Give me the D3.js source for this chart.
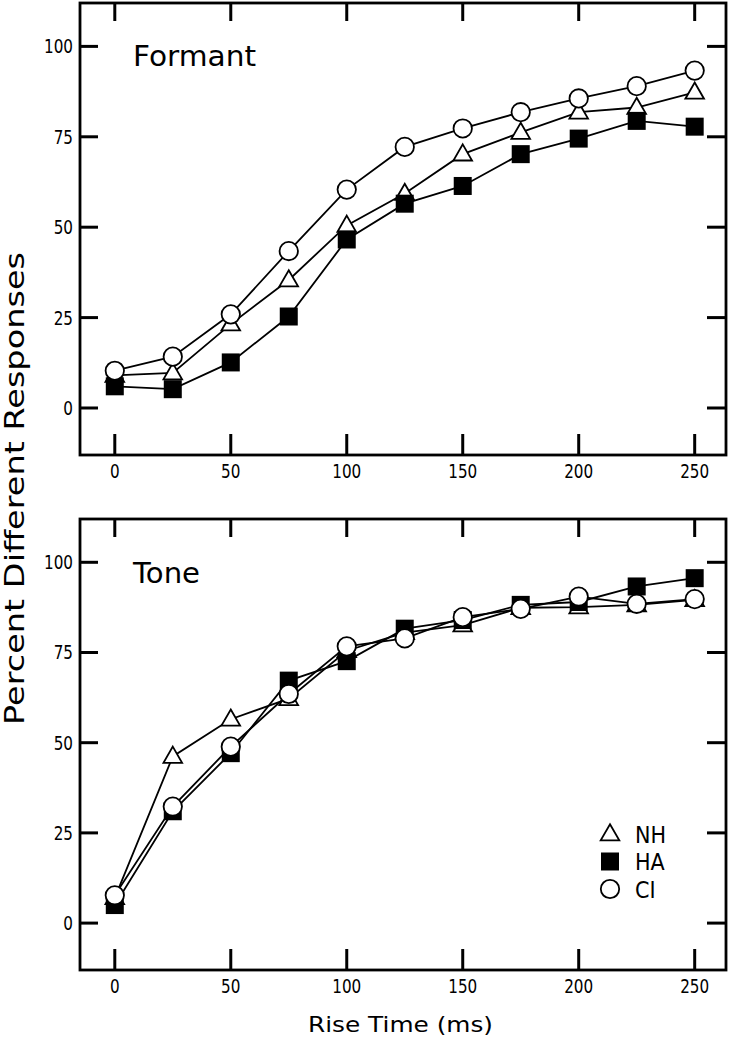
<!DOCTYPE html>
<html><head><meta charset="utf-8">
<script src="https://cdn.jsdelivr.net/npm/d3@7"></script>
<style>
html,body{margin:0;padding:0;background:#fff;}
text{font-family:"DejaVu Sans",sans-serif;fill:#000;}
</style></head>
<body>
<svg id="chart" width="730" height="1039"></svg>
<script>
const riseTime = [0,25,50,75,100,125,150,175,200,225,250];
const xTicks = [0,50,100,150,200,250];
const yTicks = [0,25,50,75,100];
const seriesNames = ["NH","HA","CI"];
// Formant panel
const formantNH = [9,9.7,23.2,35.4,50.5,59.3,70.2,76.2,81.8,83.1,87.3];
const formantHA = [6.0,5.2,12.6,25.3,46.6,56.5,61.4,70.2,74.5,79.4,77.8];
const formantCI = [10.3,14.2,25.9,43.4,60.4,72.2,77.3,81.8,85.6,89.0,93.3];
// Tone panel
const toneNH = [7,46.2,56.5,62.2,75.5,80.5,82.6,87.4,87.6,88.2,89.6];
const toneHA = [5.0,31.0,47.1,67.2,72.6,81.6,84.0,88.2,89.0,93.3,95.6];
const toneCI = [7.7,32.3,48.9,63.5,76.7,78.9,84.8,87.1,90.5,88.5,89.8];

const svg = d3.select("#chart");

function tickText(g, tx, ty, anchor, str){
  g.append("text").attr("transform",`translate(${tx},${ty}) scale(0.78,1)`)
    .attr("text-anchor",anchor).attr("font-size",19.5).text(str);
}

function panel(opts){
  const x = d3.scaleLinear().domain([-15,263.5]).range([80,726]);
  const y = d3.scaleLinear().domain([-13,112]).range([opts.bottom, opts.top]);
  const g = svg.append("g");
  g.append("rect").attr("x",x(-15)).attr("y",y(112)).attr("width",x(263.5)-x(-15)).attr("height",y(-13)-y(112))
    .attr("fill","none").attr("stroke","#000").attr("stroke-width",2.8);
  yTicks.forEach(t=>{
    g.append("line").attr("x1",x(-15)).attr("x2",x(-15)+18).attr("y1",y(t)).attr("y2",y(t)).attr("stroke","#000").attr("stroke-width",3);
    g.append("line").attr("x1",x(263.5)).attr("x2",x(263.5)-19).attr("y1",y(t)).attr("y2",y(t)).attr("stroke","#000").attr("stroke-width",3);
    tickText(g, x(-15)-7, y(t)+7, "end", t);
  });
  xTicks.forEach(t=>{
    g.append("line").attr("x1",x(t)).attr("x2",x(t)).attr("y1",y(-13)).attr("y2",y(-13)-21).attr("stroke","#000").attr("stroke-width",3);
    g.append("line").attr("x1",x(t)).attr("x2",x(t)).attr("y1",y(112)).attr("y2",y(112)+18).attr("stroke","#000").attr("stroke-width",3);
    tickText(g, x(t), y(-13)+23, "middle", t);
  });
  g.append("text").attr("x",133).attr("y",y(100)+opts.labelDy).attr("font-size",29)
    .attr("textLength",opts.labelLen).attr("lengthAdjust","spacingAndGlyphs").text(opts.label);
  const data = opts.data;
  const line = d3.line().x((d,i)=>x(riseTime[i])).y(d=>y(d));
  data.forEach(s=>{
    g.append("path").attr("d",line(s.values)).attr("fill","none").attr("stroke","#000").attr("stroke-width",1.8);
  });
  data.forEach(s=>{
    s.values.forEach((v,i)=>drawMarker(g, s.name, x(riseTime[i]), y(v)));
  });
}

function drawMarker(g, name, cx, cy){
  if(name==="NH"){
    const sym = d3.symbol().type(d3.symbolTriangle).size(150);
    g.append("path").attr("d",sym()).attr("transform",`translate(${cx},${cy+1})`).attr("fill","#fff").attr("stroke","#000").attr("stroke-width",1.8);
  } else if(name==="HA"){
    g.append("rect").attr("x",cx-9).attr("y",cy-9).attr("width",18).attr("height",18).attr("fill","#000");
  } else {
    g.append("circle").attr("cx",cx).attr("cy",cy).attr("r",9.2).attr("fill","#fff").attr("stroke","#000").attr("stroke-width",1.8);
  }
}

panel({top:3,bottom:455,label:"Formant",labelLen:123,labelDy:20,data:[
  {name:"NH",values:formantNH},{name:"HA",values:formantHA},{name:"CI",values:formantCI}]});
panel({top:519,bottom:970,label:"Tone",labelLen:67,labelDy:21,data:[
  {name:"NH",values:toneNH},{name:"HA",values:toneHA},{name:"CI",values:toneCI}]});

// legend
const lg = svg.append("g");
seriesNames.forEach((n,i)=>{
  const cy = 834 + i*27.5;
  drawMarker(lg, n, 610, cy);
  lg.append("text").attr("transform",`translate(635,${cy+8.5}) scale(0.9,1)`).attr("font-size",23).text(n);
});

svg.append("text").attr("x",308).attr("y",1032).attr("font-size",22)
  .attr("textLength",185).attr("lengthAdjust","spacingAndGlyphs").text("Rise Time (ms)");
svg.append("text").attr("transform","translate(24,725) rotate(-90)").attr("font-size",26)
  .attr("textLength",473).attr("lengthAdjust","spacingAndGlyphs").text("Percent Different Responses");
</script>
</body></html>
